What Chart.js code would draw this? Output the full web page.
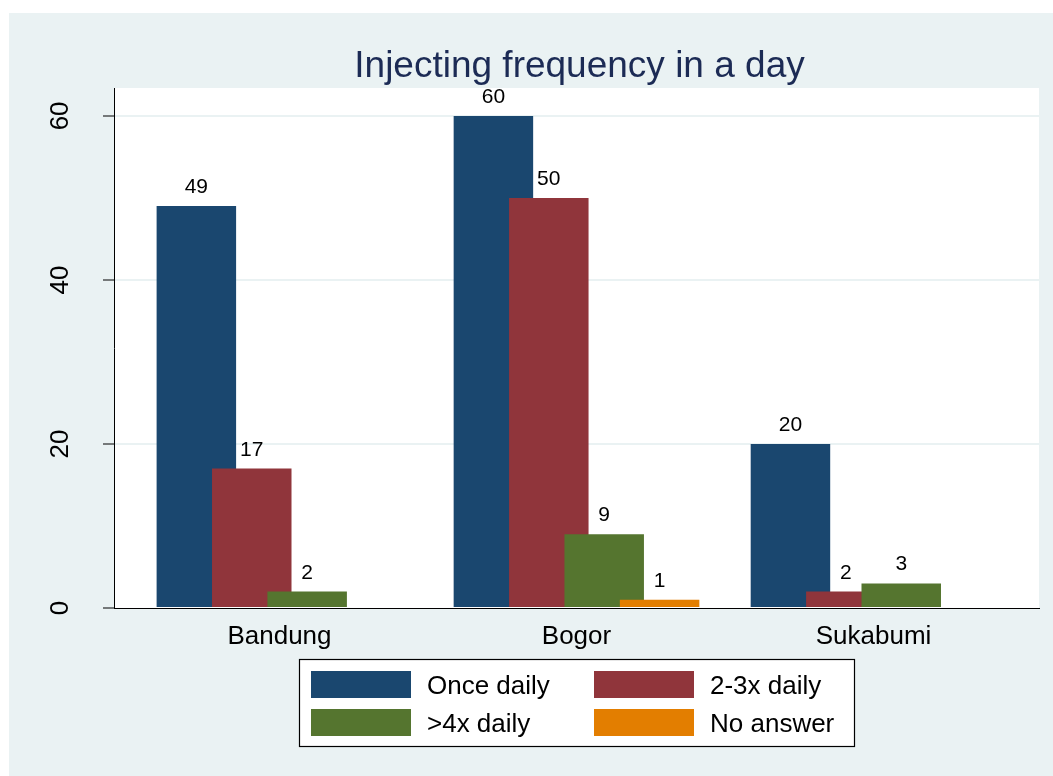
<!DOCTYPE html>
<html>
<head>
<meta charset="utf-8">
<title>Injecting frequency in a day</title>
<script src="https://cdn.jsdelivr.net/npm/chart.js@4/dist/chart.umd.min.js"></script>
<style>
    html, body { margin: 0; padding: 0; background: #ffffff; }
    #wrap { width: 1053px; height: 776px; }
</style>
</head>
<body>
<div id="wrap"><canvas id="chart" width="1053" height="776"></canvas></div>
<script>
const chartTitle = 'Injecting frequency in a day';
const cities = ['Bandung', 'Bogor', 'Sukabumi'];
const onceDaily = [49, 60, 20];
const twoThreeDaily = [17, 50, 2];
const overFourDaily = [2, 9, 3];
const noAnswer = [null, 1, null];
const yTicks = [0, 20, 40, 60];

const FONT = '"Liberation Sans", Arial, Helvetica, sans-serif';
const BG = '#eaf2f3';

const series = [
    {label: 'Once daily', values: onceDaily, color: '#1a476f'},
    {label: '2-3x daily', values: twoThreeDaily, color: '#90353b'},
    {label: '>4x daily', values: overFourDaily, color: '#55752f'},
    {label: 'No answer', values: noAnswer, color: '#e37e00'}
];

// stata style frame: bluish gray graph region, white plot region
const framePlugin = {
    id: 'frame',
    beforeDraw(chart) {
        const {ctx, chartArea: a} = chart;
        ctx.save();
        ctx.fillStyle = '#ffffff';
        ctx.fillRect(0, 0, chart.width, chart.height);
        ctx.fillStyle = BG;
        ctx.fillRect(9, 13, chart.width - 9, chart.height - 13);
        ctx.fillStyle = '#ffffff';
        ctx.fillRect(a.left, a.top, a.right - a.left, a.bottom - a.top);
        ctx.restore();
    }
};

// bars overlap, later series must be painted over the earlier ones.
// returning false here also skips afterDatasetsDraw, so labels go in afterDraw
const drawOrderPlugin = {
    id: 'drawOrder',
    beforeDatasetsDraw(chart) {
        const {ctx, chartArea: a} = chart;
        ctx.save();
        ctx.beginPath();
        ctx.rect(a.left, a.top, a.right - a.left, a.bottom - a.top);
        ctx.clip();
        chart.data.datasets.forEach((ds, i) => {
            const meta = chart.getDatasetMeta(i);
            if (!meta.hidden) meta.controller.draw();
        });
        ctx.restore();
        return false;
    }
};

const drawValueLabels = (chart) => {
    const ctx = chart.ctx;
    ctx.save();
    ctx.font = '21px ' + FONT;
    ctx.fillStyle = '#000000';
    ctx.textAlign = 'center';
    ctx.textBaseline = 'alphabetic';
    chart.data.datasets.forEach((ds, i) => {
        chart.getDatasetMeta(i).data.forEach((bar, j) => {
            const v = ds.data[j].y;
            if (v === null) return;
            ctx.fillText(String(v), bar.x, bar.y - 13);
        });
    });
    ctx.restore();
};

const titleLegendPlugin = {
    id: 'titleLegend',
    afterDraw(chart) {
        const {ctx, chartArea: a} = chart;

        drawValueLabels(chart);

        ctx.save();
        ctx.font = '37px ' + FONT;
        ctx.fillStyle = '#1c2b55';
        ctx.textAlign = 'center';
        ctx.textBaseline = 'alphabetic';
        ctx.fillText(chartTitle, (a.left + a.right) / 2 + 3, 77);

        // legend box, two columns
        const box = {x: 299, y: 659, w: 555, h: 87};
        ctx.fillStyle = '#ffffff';
        ctx.fillRect(box.x, box.y, box.w, box.h);
        ctx.strokeStyle = '#000000';
        ctx.lineWidth = 1.2;
        ctx.strokeRect(box.x + 0.5, box.y + 0.5, box.w, box.h);

        ctx.font = '26px ' + FONT;
        ctx.textAlign = 'left';
        ctx.textBaseline = 'middle';
        chart.data.datasets.forEach((ds, i) => {
            const col = i % 2, row = Math.floor(i / 2);
            const sx = box.x + 12 + col * 283;
            const cy = box.y + 25 + row * 38;
            ctx.fillStyle = ds.backgroundColor;
            ctx.fillRect(sx, cy - 13, 100, 27);
            ctx.fillStyle = '#000000';
            ctx.fillText(ds.label, sx + 116, cy + 3);
        });
        ctx.restore();
    }
};

new Chart(document.getElementById('chart').getContext('2d'), {
    type: 'bar',
    data: {
        datasets: series.map(s => ({
            label: s.label,
            data: s.values.map((v, i) => ({x: i, y: v})),
            backgroundColor: s.color,
            borderWidth: 0,
            categoryPercentage: 0.746,
            barPercentage: 1.435
        }))
    },
    options: {
        responsive: false,
        animation: false,
        layout: {padding: {left: 9, top: 88, right: 14, bottom: 0}},
        plugins: {
            legend: {display: false},
            title: {display: false},
            tooltip: {enabled: false}
        },
        scales: {
            x: {
                type: 'linear',
                offset: false,
                min: -0.557,
                max: 2.557,
                afterBuildTicks: scale => {
                    scale.ticks = cities.map((c, i) => ({value: i}));
                },
                afterFit: scale => { scale.height = 168; },
                grid: {display: false, drawTicks: false, offset: false},
                border: {color: '#000000', width: 1},
                ticks: {
                    callback: v => cities[v],
                    color: '#000000',
                    font: {family: FONT, size: 26},
                    padding: 13,
                    maxRotation: 0,
                    autoSkip: false
                }
            },
            y: {
                min: 0,
                max: 63.4,
                afterBuildTicks: scale => {
                    scale.ticks = yTicks.map(v => ({value: v}));
                },
                afterFit: scale => { scale.width = 105; },
                grid: {
                    color: ctx => ctx.tick && ctx.tick.value === 0 ? 'rgba(0,0,0,0)' : BG,
                    lineWidth: 2,
                    tickColor: '#000000',
                    tickWidth: 1,
                    tickLength: 11
                },
                border: {color: '#000000', width: 1},
                ticks: {
                    color: '#000000',
                    font: {family: FONT, size: 26},
                    minRotation: 90,
                    maxRotation: 90,
                    crossAlign: 'center',
                    padding: 28
                }
            }
        }
    },
    plugins: [framePlugin, drawOrderPlugin, titleLegendPlugin]
});
</script>
</body>
</html>
